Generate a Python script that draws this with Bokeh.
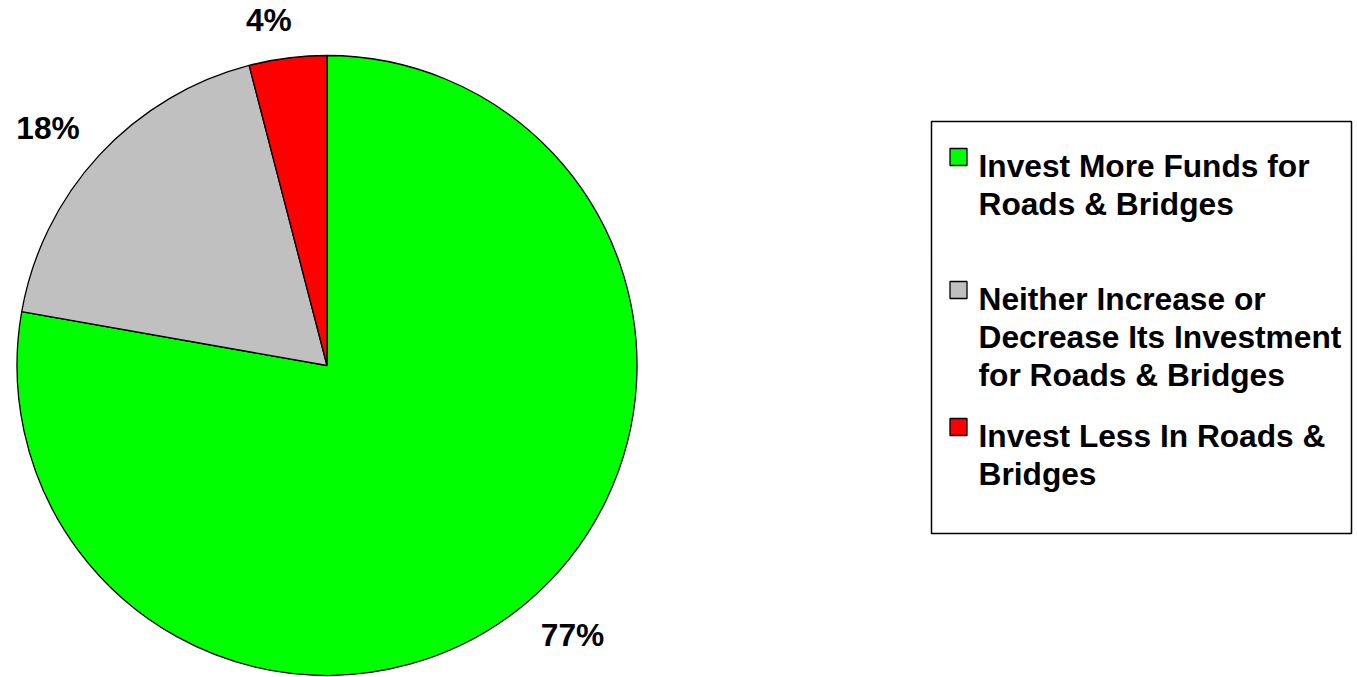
import math
from bokeh.plotting import figure
from bokeh.models import Range1d, ColumnDataSource
from bokeh.core.properties import value
from bokeh.embed import file_html
from bokeh.resources import INLINE

# ---- data ----
categories = [
    "Invest More Funds for\nRoads & Bridges",
    "Neither Increase or\nDecrease Its Investment\nfor  Roads & Bridges",
    "Invest Less In Roads &\nBridges",
]
shares = [77, 18, 4]
colors = ["#00FF00", "#C0C0C0", "#FF0000"]

# ---- layout constants (screen pixels of the reference) ----
W, H = 1357, 677
FONT = value("Liberation Sans")
FS = 31.7


def dx(sx):
    return sx


def dy(sy):
    return H - sy


CX, CY, R = dx(326.5), dy(365), 310
LABEL_GAP = 25
LABEL_ROT = math.radians(2.3)

p = figure(width=W, height=H, output_backend="svg", toolbar_location=None,
           x_range=Range1d(0, W), y_range=Range1d(0, H), min_border=0)
p.axis.visible = False
p.grid.visible = False
p.outline_line_color = None
p.background_fill_color = "white"
p.border_fill_color = "white"

total = float(sum(shares))
starts, ends, mids = [], [], []
a = math.pi / 2
for v in shares:
    sweep = 2 * math.pi * v / total
    starts.append(a)
    ends.append(a - sweep)
    mids.append(a - sweep / 2)
    a -= sweep

src = ColumnDataSource(dict(start=starts, end=ends, color=colors))
p.wedge(x=CX, y=CY, radius=R, start_angle="start", end_angle="end",
        direction="clock", fill_color="color", line_color="black",
        line_width=1.3, source=src)

# percentage labels outside the pie
lx, ly, lt = [], [], []
for v, m in zip(shares, mids):
    txt = f"{v}%"
    w = FS * (0.556 * (len(txt) - 1) + 0.889)
    h = FS * 0.72
    ang = m + LABEL_ROT
    ux, uy = math.cos(ang), math.sin(ang)
    off = R + LABEL_GAP + abs(ux) * w / 2 + abs(uy) * h / 2
    lx.append(CX + ux * off)
    ly.append(CY + uy * off)
    lt.append(txt)
p.text(x=lx, y=ly, text=lt, text_font=FONT, text_font_style="bold",
       text_font_size=f"{FS}px", text_align="center", text_baseline="middle",
       text_color="black")

# legend box
BX0, BX1, BY0, BY1 = dx(931), dx(1351), dy(533), dy(121)
p.quad(left=BX0, right=BX1, bottom=BY0, top=BY1, fill_color="white",
       line_color="black", line_width=1.5)

first_baselines = [165, 298, 435]
LINE_STEP = 38
MX, MS = 958, 17
tx, ty, tt = [], [], []
mx, my = [], []
for lab, b in zip(categories, first_baselines):
    for j, line in enumerate(lab.split("\n")):
        tx.append(dx(978))
        ty.append(dy(b + j * LINE_STEP))
        tt.append(line)
    mx.append(dx(MX))
    my.append(dy(b - 8.5))
p.rect(x=mx, y=my, width=MS, height=MS, fill_color=colors,
       line_color="black", line_width=1.3)
p.text(x=tx, y=ty, text=tt, text_font=FONT, text_font_style="bold",
       text_font_size=f"{FS}px", text_align="left",
       text_baseline="alphabetic", text_color="black")

open("out.html", "w").write(file_html(p, INLINE))
